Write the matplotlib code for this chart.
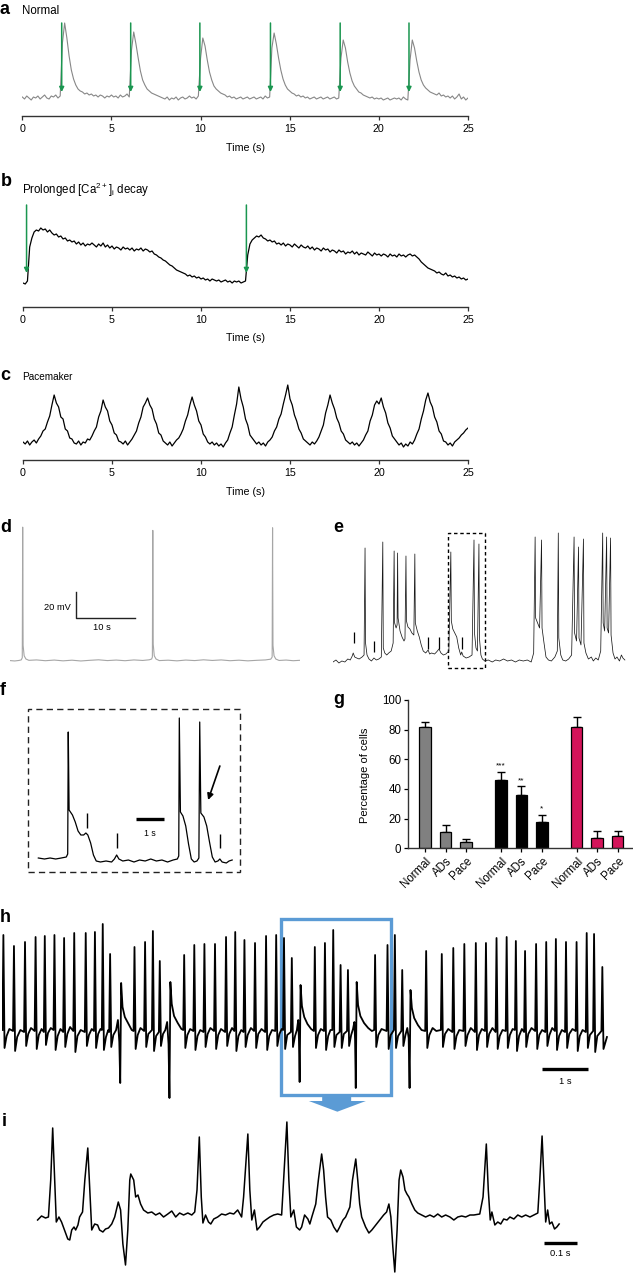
import numpy as np
import matplotlib.pyplot as plt
from matplotlib.patches import Rectangle, Polygon

plt.rcParams['font.family'] = ['Liberation Sans', 'DejaVu Sans']

# ---------------- data ----------------
# a: Normal Ca transients, sampled every 0.125 s (arbitrary units)
a_vals = [1, -1, 2, 0, -2, 1, 0, 2,
          -1, 1, 3, 0, -1, 2, 1, 3,
          0, 2, 55, 75, 60, 42, 28, 19,
          13, 9, 7, 6, 4, 5, 3, 4,
          2, 3, 1, 3, 2, 0, 2, 1,
          3, 1, 2, 0, 3, 1, 2, 4,
          1, 48, 66, 54, 40, 27, 18, 13,
          9, 7, 5, 4, 3, 2, 1, 0,
          -1, 1, -2, 0, -1, 1, -2, 0,
          1, -1, 0, 2, 0, 1, -1, 2,
          40, 60, 52, 38, 26, 18, 12, 9,
          7, 5, 4, 3, 1, 2, 0, 1,
          -1, 0, 1, -1, 0, 1, -1, 0,
          1, -1, 0, 1, -1, 2, 0, 1,
          50, 65, 54, 40, 28, 19, 13, 9,
          7, 5, 4, 2, 3, 1, 2, 0,
          1, -1, 0, 1, -1, 0, 1, -1,
          0, 1, -1, 0, 1, -1, 0, 40,
          58, 50, 36, 25, 17, 12, 9, 6,
          5, 3, 2, 1, 0, 1, -1, 0,
          -1, 0, -2, -1, 0, -2, -1, 0,
          -1, 0, -2, 1, -1, -2, 38, 58,
          50, 37, 26, 18, 13, 10, 8, 6,
          5, 4, 3, 5, 2, 3, 1, 2,
          0, 2, -1, 1, 4, -1, 1, -2,
          0]
a_arrows = [2.21, 6.08, 9.96, 13.92, 17.83, 21.69]

# b: prolonged decay, every 0.125 s
b_vals = [2, 1, 4, 38, 47, 53, 55, 54,
          57, 55, 56, 53, 55, 52, 50, 51,
          48, 49, 46, 47, 44, 45, 43, 44,
          41, 43, 40, 42, 39, 41, 40, 42,
          40, 38, 41, 39, 42, 38, 40, 37,
          39, 36, 38, 37, 35, 38, 36, 37,
          35, 37, 34, 36, 35, 37, 34, 36,
          35, 33, 34, 31, 30, 28, 27, 25,
          24, 22, 20, 19, 17, 15, 14, 13,
          12, 11, 9, 10, 8, 9, 7, 8,
          6, 7, 5, 6, 4, 6, 5, 4,
          5, 3, 4, 5, 3, 4, 2, 4,
          3, 4, 2, 3, 4, 30, 41, 45,
          47, 49, 48, 50, 47, 46, 44, 45,
          43, 44, 41, 42, 40, 42, 39, 41,
          40, 38, 41, 39, 37, 40, 38, 37,
          39, 36, 38, 35, 37, 36, 34, 37,
          35, 36, 33, 35, 34, 32, 35, 33,
          34, 31, 33, 32, 34, 31, 33, 30,
          32, 31, 30, 33, 31, 29, 32, 30,
          31, 29, 31, 30, 28, 31, 29, 30,
          28, 31, 29, 30, 28, 30, 31, 29,
          30, 28, 26, 23, 21, 19, 17, 16,
          15, 14, 12, 13, 11, 10, 12, 9,
          10, 8, 9, 7, 8, 6, 7, 5,
          6]
b_arrows = [0.2, 12.55]

# c: pacemaker, every 0.125 s
c_vals = [8, 6, 9, 5, 8, 10, 7, 11,
          14, 19, 21, 28, 34, 45, 55, 47,
          43, 33, 31, 21, 19, 12, 11, 7,
          6, 9, 5, 8, 7, 11, 10, 14,
          19, 23, 33, 39, 50, 43, 39, 29,
          25, 17, 15, 9, 8, 6, 9, 5,
          8, 11, 15, 19, 27, 33, 43, 47,
          52, 45, 41, 31, 26, 17, 15, 9,
          7, 5, 8, 4, 7, 10, 12, 16,
          21, 29, 35, 45, 53, 45, 39, 29,
          25, 16, 13, 8, 6, 8, 5, 7,
          4, 6, 3, 7, 10, 17, 23, 35,
          46, 63, 51, 43, 31, 25, 15, 12,
          9, 6, 8, 5, 7, 4, 8, 10,
          13, 19, 23, 31, 36, 46, 55, 65,
          51, 45, 35, 29, 21, 17, 11, 9,
          7, 5, 8, 6, 9, 13, 19, 25,
          37, 45, 55, 47, 41, 32, 27, 19,
          16, 10, 8, 6, 8, 5, 7, 4,
          7, 10, 15, 19, 29, 35, 45, 49,
          46, 52, 43, 37, 27, 22, 14, 11,
          8, 5, 7, 3, 6, 4, 8, 6,
          10, 16, 21, 31, 39, 50, 57, 48,
          43, 33, 28, 19, 16, 9, 8, 5,
          7, 4, 8, 10, 12, 15, 17, 20,
          22]

# d: membrane potential (s, mV)
d_pts = [[0.0, 0.3], [0.8, 0.0], [1.5, 0.4], [1.9, 0.8], [2.08, 2.5], [2.15, 103], [2.22, 12],
         [2.4, 4], [2.7, 1.5], [3.2, 0.5], [4.5, 0.8], [6.0, 0.2], [7.5, 0.7], [9.0, 0.1],
         [10.5, 0.6], [12.0, 0.0], [13.5, 0.5], [15.0, 0.9], [16.5, 0.3], [18.0, 0.7],
         [19.5, 0.2], [21.0, 0.8], [22.5, 0.4], [23.6, 0.9], [24.0, 1.5], [24.13, 3],
         [24.2, 100.5], [24.27, 13], [24.45, 4], [24.75, 1.5], [25.3, 0.3], [26.8, 0.6],
         [28.3, 0.1], [29.8, 0.7], [31.3, 0.3], [32.8, 0.9], [34.3, 0.4], [35.8, 0.8],
         [37.3, 0.2], [38.8, 0.6], [40.3, 0.1], [41.8, 0.5], [43.3, 0.8], [44.2, 1.4],
         [44.43, 3], [44.5, 102.5], [44.57, 12], [44.75, 4], [45.05, 1.5], [45.6, 0.4],
         [46.8, 0.7], [48.0, 0.2], [49.1, 0.5]]

# e: membrane potential with after-depolarisations (s, a.u.)
e_pts = [[0.0, 1], [0.6, 3], [1.2, 0], [1.8, 2], [2.4, 1], [3.0, 4], [3.5, 3], [3.9, 7], [4.1, 10],
         [4.4, 6], [4.8, 5], [5.3, 4], [5.9, 6], [6.3, 8],
         [6.5, 115], [6.6, 20], [6.9, 8], [7.3, 4], [7.8, 2], [8.3, 5], [8.8, 3], [9.3, 4], [9.8, 6],
         [10.1, 121], [10.2, 15], [10.5, 10], [10.9, 8], [11.3, 10], [11.8, 12], [12.2, 20],
         [12.4, 112], [12.5, 40], [12.8, 35], [13.0, 38], [13.1, 110], [13.2, 45], [13.6, 32],
         [14.0, 26], [14.4, 22], [14.6, 24],
         [14.8, 107], [14.9, 42], [15.2, 36], [15.6, 34], [16.0, 30], [16.4, 28],
         [16.6, 109], [16.7, 40], [17.1, 32], [17.5, 26], [17.9, 18], [18.3, 12], [18.8, 10],
         [19.3, 13], [19.6, 9], [20.0, 10], [20.6, 9], [21.0, 11], [21.5, 14], [21.9, 10],
         [22.4, 8], [22.9, 9], [23.5, 12],
         [23.9, 111], [24.0, 42], [24.3, 34], [24.7, 30], [25.1, 26], [25.5, 15], [25.9, 8],
         [26.1, 11], [26.4, 7], [27.0, 5], [27.6, 6], [28.2, 8],
         [28.6, 123], [28.7, 30], [29.0, 15], [29.3, 12], [29.6, 119], [29.7, 25], [30.0, 8],
         [30.3, 4], [30.8, 2], [31.5, 3], [32.3, 1], [33.0, 3], [33.8, 2], [34.6, 4], [35.4, 2],
         [36.2, 3], [37.0, 1], [37.8, 3], [38.6, 2], [39.4, 3], [40.2, 1], [40.7, 10],
         [41.0, 126], [41.1, 45], [41.5, 40], [41.9, 35], [42.3, 123], [42.4, 35], [42.8, 20],
         [43.2, 6], [43.7, 3], [44.3, 2], [45.0, 6], [45.5, 12],
         [45.7, 130], [45.8, 25], [46.2, 8], [46.6, 3], [47.2, 2], [47.8, 4], [48.4, 8],
         [48.9, 126], [49.0, 30], [49.4, 22], [49.8, 116], [49.9, 25], [50.3, 18], [50.8, 124],
         [50.9, 20], [51.3, 10], [51.8, 4], [52.4, 6], [52.8, 2], [53.3, 5], [53.8, 3], [54.3, 12],
         [54.7, 130], [54.8, 40], [55.1, 32], [55.5, 126], [55.6, 35], [55.9, 30], [56.3, 125],
         [56.4, 28], [56.8, 10], [57.2, 4], [57.6, 6], [58.1, 2], [58.5, 8], [58.8, 5], [59.2, 3]]
e_mark_t = [4.3, 8.3, 19.3, 21.5, 26.1]
e_mark_lo = [20, 11, 14, 14, 14]
e_mark_hi = [31, 22, 26, 26, 26]

# f: zoom of the dashed region in e (s, a.u.)
f_pts = [[0.38, 4], [0.6, 3], [0.8, 4], [1.0, 3], [1.2, 4],
         [1.38, 5], [1.43, 8], [1.45, 130], [1.48, 52], [1.6, 47],
         [1.7, 40], [1.8, 31], [1.9, 27], [2.0, 27], [2.08, 29],
         [2.15, 27], [2.25, 19], [2.35, 7], [2.45, 1], [2.6, 0],
         [2.8, 1], [3.0, 0], [3.1, 3], [3.18, 7], [3.26, 3],
         [3.4, 1], [3.6, 2], [3.8, 0], [4.0, 2], [4.2, 1],
         [4.4, 3], [4.6, 1], [4.8, 2], [5.0, 0], [5.2, 2],
         [5.35, 3], [5.40, 6], [5.42, 144], [5.46, 50], [5.55, 46],
         [5.65, 36], [5.75, 18], [5.85, 3], [5.95, 0], [6.05, 1],
         [6.12, 4], [6.15, 140], [6.19, 49], [6.3, 45], [6.4, 36],
         [6.5, 20], [6.6, 5], [6.7, 0], [6.8, 1], [6.87, 3],
         [6.95, 0], [7.1, -1], [7.2, 1], [7.31, 2]]
f_mark_t = [2.13, 3.18, 6.87]
f_mark_lo = [34, 14, 14]
f_mark_hi = [49, 29, 28]

# g: percentage of cells
g_labels = ['Normal', 'ADs', 'Pace'] * 3
g_pos = [0, 1, 2, 3.7, 4.7, 5.7, 7.4, 8.4, 9.4]
g_mean = [82, 11, 4, 46, 36, 18, 82, 7, 8]
g_err = [3.4, 5, 2.3, 5.7, 5.8, 4.7, 6.3, 4.5, 3.4]
g_colors = ['#808080'] * 3 + ['#000000'] * 3 + ['#d4145a'] * 3
g_stars = {3: '***', 4: '**', 5: '*'}

# h: ECG-like trace (s, a.u.)
h_pts = [[0.01, 2], [0.03, 97], [0.055, -16], [0.10, -4], [0.16, 3],
         [0.24, 1], [0.26, 86], [0.285, -19], [0.33, -5], [0.40, 2],
         [0.48, 0], [0.50, 90], [0.525, -14], [0.57, -2], [0.63, 4],
         [0.71, 1], [0.73, 95], [0.755, -17], [0.80, -3], [0.86, 3],
         [0.91, 0], [0.93, 96], [0.955, -13], [1.00, -1], [1.06, 4],
         [1.12, 2], [1.14, 97], [1.165, -18], [1.21, -4], [1.27, 3],
         [1.33, 0], [1.35, 94], [1.375, -15], [1.42, -2], [1.48, 5],
         [1.55, 1], [1.57, 99], [1.595, -20], [1.64, -4], [1.71, 2],
         [1.80, 0], [1.82, 99], [1.845, -14], [1.89, -3], [1.95, 3],
         [2.00, 1], [2.02, 100], [2.045, -16], [2.09, -2], [2.14, 3],
         [2.17, 2], [2.19, 108], [2.215, -18], [2.26, -5], [2.31, 2],
         [2.33, 0], [2.35, 78], [2.375, -15], [2.42, -3],
         [2.48, 2], [2.52, 12], [2.55, -10], [2.57, -51], [2.59, 49], [2.62, 25], [2.67, 15],
         [2.75, 8], [2.82, 2],
         [2.86, 1], [2.88, 85], [2.905, -17], [2.95, -3], [3.01, 4],
         [3.09, 1], [3.11, 90], [3.135, -15], [3.18, -2],
         [3.26, 2], [3.28, 101], [3.305, -19], [3.35, -4],
         [3.41, 0], [3.43, 71], [3.455, -14], [3.50, -2],
         [3.55, 2], [3.59, 10], [3.62, -12], [3.64, -66], [3.66, 50], [3.69, 28], [3.74, 16],
         [3.82, 9], [3.90, 3],
         [3.94, 2], [3.96, 77], [3.985, -16], [4.03, -3], [4.09, 3],
         [4.16, 1], [4.18, 87], [4.205, -18], [4.25, -4], [4.31, 2],
         [4.38, 0], [4.40, 88], [4.425, -15], [4.47, -2], [4.53, 4],
         [4.61, 1], [4.63, 88], [4.655, -17], [4.70, -3], [4.76, 3],
         [4.85, 0], [4.87, 95], [4.895, -14], [4.94, -2], [5.00, 4],
         [5.05, 1], [5.07, 100], [5.095, -19], [5.14, -4], [5.20, 2],
         [5.25, 0], [5.27, 92], [5.295, -15], [5.34, -3], [5.41, 4],
         [5.48, 1], [5.50, 89], [5.525, -16], [5.57, -2], [5.64, 3],
         [5.72, 0], [5.74, 96], [5.765, -18], [5.81, -4], [5.87, 2],
         [5.94, 1], [5.96, 97], [5.985, -14], [6.03, -2], [6.08, 3],
         [6.11, 2], [6.13, 94], [6.155, -17], [6.20, -3],
         [6.28, 0], [6.30, 74], [6.325, -15], [6.37, -4],
         [6.41, 2], [6.44, 12], [6.455, -8], [6.47, -50], [6.49, 47], [6.52, 26], [6.57, 15],
         [6.64, 8], [6.72, 3],
         [6.78, 1], [6.80, 85], [6.825, -16], [6.87, -3], [6.93, 3],
         [7.00, 1], [7.02, 89], [7.045, -18], [7.09, -4], [7.14, 2],
         [7.18, 2], [7.20, 102], [7.225, -15], [7.27, -3],
         [7.34, 0], [7.36, 67], [7.385, -16], [7.43, -2],
         [7.50, 1], [7.52, 62], [7.545, -14], [7.59, -3],
         [7.63, 3], [7.66, 10], [7.675, -8], [7.69, -56], [7.71, 50], [7.74, 27], [7.79, 16],
         [7.87, 9], [7.96, 4], [8.04, 1],
         [8.09, 2], [8.11, 77], [8.135, -15], [8.18, -3], [8.25, 3],
         [8.36, 1], [8.38, 87], [8.405, -17], [8.45, -3],
         [8.52, 2], [8.54, 97], [8.565, -16], [8.61, -4],
         [8.68, 1], [8.70, 62], [8.725, -14], [8.77, -3],
         [8.81, 4], [8.84, -6], [8.86, -56], [8.88, 42], [8.91, 24], [8.96, 14], [9.04, 7], [9.12, 2],
         [9.20, 1], [9.22, 81], [9.245, -16], [9.29, -3], [9.36, 4], [9.44, 1],
         [9.54, 2], [9.56, 78], [9.585, -15], [9.63, -2], [9.70, 3],
         [9.79, 0], [9.81, 84], [9.835, -17], [9.88, -4], [9.94, 2],
         [10.03, 1], [10.05, 88], [10.075, -14], [10.12, -3], [10.19, 4],
         [10.28, 0], [10.30, 89], [10.325, -18], [10.37, -3], [10.43, 3],
         [10.50, 1], [10.52, 89], [10.545, -15], [10.59, -2], [10.66, 4],
         [10.73, 0], [10.75, 94], [10.775, -17], [10.82, -4], [10.88, 2],
         [10.95, 1], [10.97, 95], [10.995, -16], [11.04, -3], [11.10, 3],
         [11.15, 2], [11.17, 91], [11.195, -19], [11.24, -4], [11.30, 3],
         [11.35, 0], [11.37, 81], [11.395, -15], [11.44, -2], [11.51, 4],
         [11.59, 1], [11.61, 88], [11.635, -17], [11.68, -3], [11.74, 2],
         [11.81, 0], [11.83, 90], [11.855, -14], [11.90, -3], [11.96, 4],
         [12.02, 1], [12.04, 93], [12.065, -18], [12.11, -4], [12.17, 2],
         [12.24, 0], [12.26, 90], [12.285, -16], [12.33, -2], [12.40, 3],
         [12.47, 1], [12.49, 90], [12.515, -19], [12.56, -4], [12.62, 2],
         [12.69, 0], [12.71, 99], [12.735, -16], [12.78, -3],
         [12.85, 1], [12.87, 98], [12.895, -20], [12.94, -4],
         [13.03, 1], [13.05, 65], [13.075, -17], [13.15, -5]]

# i: expanded ECG segment (ms, a.u.)
i_pts = [[0, -3], [12, 1], [24, -1], [33, 0], [40, 37], [46, 89], [52, 37], [57, -5], [65, 0],
         [73, -5], [82, -13], [92, -22], [98, -23], [104, -13], [111, -10], [116, -13], [123, -8],
         [128, 0], [137, 5], [144, 37], [153, 69], [159, 27], [165, -13], [174, -7], [183, -8],
         [189, -13], [199, -15], [207, -12], [216, -11], [226, -7], [235, 0], [246, 15], [253, 7],
         [260, -27], [268, -48], [275, -13], [281, 37], [284, 43], [293, 37], [299, 20], [306, 22],
         [314, 13], [323, 7], [336, 4], [348, 5], [360, 2], [372, 4], [384, 0], [397, 3], [409, 6],
         [421, 0], [433, 4], [445, 2], [458, 4], [470, 2], [479, 5], [486, 27], [493, 80], [499, 20],
         [504, -6], [512, 2], [521, -5], [528, -7], [537, -2], [549, 0], [561, 3], [573, 2],
         [586, 4], [598, 3], [610, 7], [622, 0], [628, 20], [641, 83], [647, 27], [653, -3],
         [661, 7], [669, -13], [677, -10], [687, -5], [695, -3], [708, 0], [720, 2], [732, 3],
         [744, 2], [750, 37], [760, 95], [766, 37], [772, 0], [781, 7], [789, -10], [799, -13],
         [805, -10], [814, 2], [824, -2], [830, -7], [836, 0], [848, 13], [856, 37], [866, 63],
         [872, 47], [878, 20], [884, 0], [894, -3], [903, -10], [913, -15], [921, -10], [931, -3],
         [939, 0], [952, 10], [960, 37], [970, 58], [976, 37], [982, 13], [988, 0], [1000, -10],
         [1010, -16], [1019, -13], [1031, -8], [1043, -3], [1055, 2], [1064, 5], [1071, 13],
         [1077, 0], [1083, -30], [1089, -55], [1096, -13], [1102, 37], [1107, 47], [1114, 40],
         [1120, 27], [1126, 23], [1132, 20], [1141, 13], [1150, 7], [1159, 4], [1171, 2],
         [1183, 0], [1196, 2], [1208, 0], [1220, 3], [1232, 0], [1244, 2], [1257, 0], [1269, -3],
         [1281, 0], [1293, 1], [1305, 0], [1318, 2], [1330, 2], [1348, 3], [1358, 20], [1368, 73],
         [1374, 27], [1380, -3], [1385, 5], [1394, -8], [1403, -5], [1412, -7], [1421, -2],
         [1431, -3], [1440, 0], [1452, -2], [1464, 2], [1476, 0], [1488, 2], [1501, 0], [1513, 2],
         [1525, 4], [1531, 37], [1538, 81], [1544, 33], [1549, -5], [1555, 7], [1561, -7],
         [1568, -5], [1576, -12], [1583, -10], [1590, -7]]

# ---------------- figure ----------------
W, H = 633, 1273
fig = plt.figure(figsize=(W / 100, H / 100), dpi=100)
GREEN = '#1a9650'
BLUE = '#5b9bd5'


def px_axes(x0, y0, x1, y1):
    # axes placed by pixel box (top-left origin)
    return fig.add_axes([x0 / W, 1 - y1 / H, (x1 - x0) / W, (y1 - y0) / H])


def ftext(x, y, s, **kw):
    kw.setdefault('va', 'center')
    fig.text(x / W, 1 - y / H, s, **kw)


def time_axis(ax):
    for side in ['left', 'top', 'right']:
        ax.spines[side].set_visible(False)
    ax.spines['bottom'].set_color('#333333')
    ax.spines['bottom'].set_linewidth(1.0)
    ax.set_yticks([])
    ax.set_xticks([0, 5, 10, 15, 20, 25])
    ax.tick_params(axis='x', direction='out', length=3, width=0.9, colors='#333333',
                   labelsize=7.7, pad=2.5, labelcolor='black')
    ax.set_xlim(0, 25)
    ax.patch.set_visible(False)


def green_arrows(ax, times, top, tip):
    for t0 in times:
        ax.annotate('', xy=(t0, tip), xytext=(t0, top),
                    arrowprops=dict(arrowstyle='-|>', color=GREEN, lw=1.1,
                                    mutation_scale=7, shrinkA=0, shrinkB=0))


def letter(x, y, s):
    ftext(x, y, s, ha='left', fontsize=13, fontweight='bold')


# panel a
ax = px_axes(22.3, 18, 468, 116)
ax.plot(np.arange(len(a_vals)) * 0.125, a_vals, color='#878787', lw=0.8)
green_arrows(ax, a_arrows, 75, 6)
ax.set_ylim(-18, 80)
time_axis(ax)
letter(0, 9.5, 'a')
ftext(22, 11, 'Normal', ha='left', fontsize=8.3)
ftext(245, 148, 'Time (s)', ha='center', fontsize=7.7)

# panel b
ax = px_axes(23, 195, 468, 307)
ax.plot(np.arange(len(b_vals)) * 0.125, b_vals, color='black', lw=0.9)
green_arrows(ax, b_arrows, 80, 12)
ax.set_ylim(-22, 90)
time_axis(ax)
letter(1, 181, 'b')
ftext(22, 190, r'Prolonged [Ca$^{\mathregular{2+}}$]$_{\mathregular{i}}$ decay', ha='left', fontsize=8.3)
ftext(245, 338, 'Time (s)', ha='center', fontsize=7.7)

# panel c
ax = px_axes(23, 378, 468, 460)
ax.plot(np.arange(len(c_vals)) * 0.125, c_vals, color='black', lw=0.9)
ax.set_ylim(-10, 72)
time_axis(ax)
letter(0, 375, 'c')
ftext(22, 377, 'Pacemaker', ha='left', fontsize=7.2)
ftext(245, 492, 'Time (s)', ha='center', fontsize=7.7)

# panel d
d = np.array(d_pts)
ax = px_axes(10, 520, 300, 665)
ax.plot(d[:, 0], d[:, 1], color='#a6a6a6', lw=0.8)
ax.set_xlim(0, 49.15)
ax.set_ylim(-3.1, 108.5)
ax.set_axis_off()
ax.plot([11.2, 11.2, 21.2], [53, 33, 33], color='#222222', lw=1.0, clip_on=False)
ftext(71, 607, '20 mV', ha='right', fontsize=6.7)
ftext(102, 628, '10 s', ha='center', fontsize=6.7)
letter(0, 527, 'd')

# panel e
e = np.array(e_pts)
ax = px_axes(333, 525, 626, 670)
ax.plot(e[:, 0], e[:, 1], color='#1a1a1a', lw=0.55)
ax.vlines(e_mark_t, e_mark_lo, e_mark_hi, color='black', lw=0.9)
ax.add_patch(Rectangle((23.27, -5.3), 7.56, 135.6, fill=False, ec='black', lw=1.0,
                       ls=(0, (2.5, 2)), clip_on=False))
ax.set_xlim(0, 59.43)
ax.set_ylim(-7, 138)
ax.set_axis_off()
letter(333, 527, 'e')

# panel f
f = np.array(f_pts)
ax = px_axes(27.7, 709, 240, 872.3)
ax.plot(f[:, 0], f[:, 1], color='black', lw=0.9)
ax.vlines(f_mark_t, f_mark_lo, f_mark_hi, color='black', lw=1.0)
ax.add_patch(Rectangle((0, 0), 1, 1, transform=ax.transAxes, fill=False, ec='#222222', lw=1.0,
                       ls=(0, (4.5, 3)), clip_on=False))
ax.annotate('', xy=(6.45, 62), xytext=(6.87, 96),
            arrowprops=dict(arrowstyle='-|>', color='black', lw=1.2, mutation_scale=9,
                            shrinkA=0, shrinkB=0))
ax.plot([3.87, 4.87], [42.7, 42.7], color='black', lw=2.4, solid_capstyle='butt')
ax.set_xlim(0, 7.59)
ax.set_ylim(-10.3, 153)
ax.set_axis_off()
ftext(150, 833, '1 s', ha='center', fontsize=6.3)
letter(0, 691, 'f')

# panel g
ax = px_axes(408.3, 700, 632.7, 848.3)
ax.bar(g_pos, g_mean, width=0.56, color=g_colors, edgecolor='black', lw=0.9, zorder=2)
ax.errorbar(g_pos, g_mean, yerr=[np.zeros(len(g_err)), g_err], fmt='none', ecolor='black',
            elinewidth=1.0, capsize=2.6, capthick=1.0, zorder=1)
for k, s in g_stars.items():
    ax.text(g_pos[k], g_mean[k] + g_err[k] + 1.5, s, ha='center', va='bottom', fontsize=6)
ax.set_xlim(-0.815, 10.13)
ax.set_ylim(0, 100)
ax.set_yticks([0, 20, 40, 60, 80, 100])
ax.set_xticks(g_pos)
ax.set_xticklabels(g_labels, rotation=45, ha='right', va='top', rotation_mode='anchor')
for side in ['top', 'right']:
    ax.spines[side].set_visible(False)
for side in ['left', 'bottom']:
    ax.spines[side].set_linewidth(1.0)
    ax.spines[side].set_color('#333333')
ax.tick_params(axis='both', direction='out', length=3, width=0.9, labelsize=8.3, pad=2)
ax.patch.set_visible(False)
ftext(365, 775, 'Percentage of cells', ha='center', rotation=90, fontsize=8)
letter(333, 700, 'g')

# panel h
h = np.array(h_pts)
ax = px_axes(2, 915, 612, 1115)
ax.plot(h[:, 0], h[:, 1], color='black', lw=1.3)
ax.add_patch(Rectangle((6.065, -63), 2.385, 175.7, fill=False, ec=BLUE, lw=2.4, clip_on=False))
ax.add_patch(Polygon([(6.96, -63), (7.59, -63), (7.59, -69), (7.91, -69), (7.29, -79.7),
                      (6.67, -69), (6.96, -69)], closed=True, fc=BLUE, ec='none', clip_on=False))
ax.plot([11.74, 12.74], [-37.3, -37.3], color='black', lw=2.4, solid_capstyle='butt')
ax.set_xlim(0, 13.26)
ax.set_ylim(-83, 117)
ax.set_axis_off()
ftext(565, 1081, '1 s', ha='center', fontsize=6.7)
letter(0, 918, 'h')

# panel i
ii = np.array(i_pts)
ax = px_axes(37.6, 1115, 600, 1273)
ax.plot(ii[:, 0], ii[:, 1], color='black', lw=1.1, clip_on=False)
ax.plot([1544, 1644], [-25.7, -25.7], color='black', lw=2.4, solid_capstyle='butt')
ax.set_xlim(0, 1714.6)
ax.set_ylim(-56, 102)
ax.set_axis_off()
ftext(560, 1253, '0.1 s', ha='center', fontsize=6.7)
letter(2, 1121, 'i')

fig.savefig('out.png', dpi=100)
